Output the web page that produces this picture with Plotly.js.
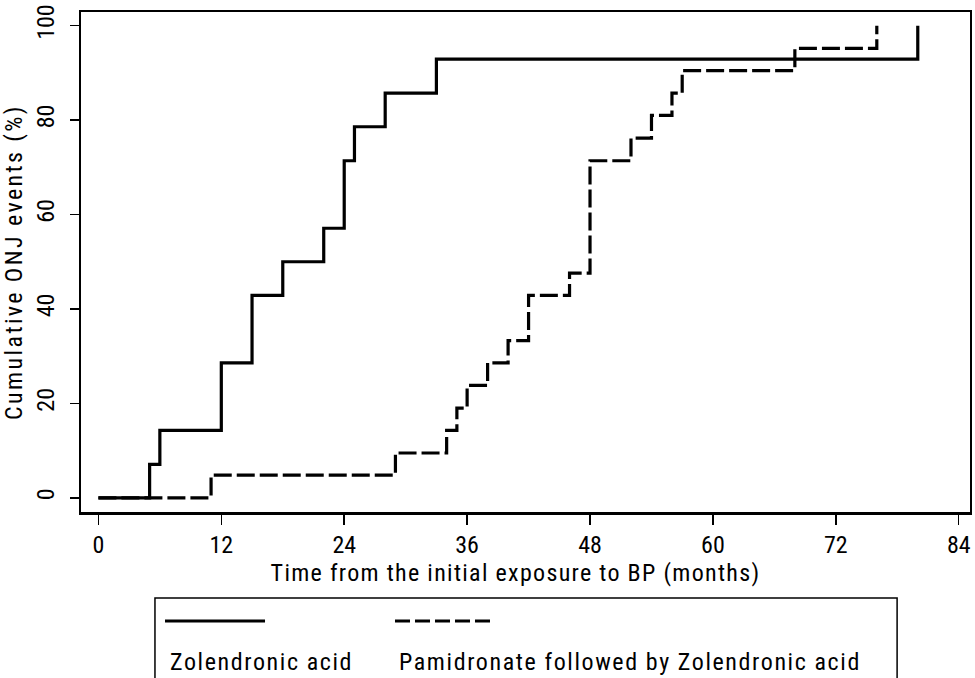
<!DOCTYPE html>
<html>
<head>
<meta charset="utf-8">
<script src="https://cdn.plot.ly/plotly-3.0.1.min.js"></script>
<style>
html,body{margin:0;padding:0;background:#fff;}
#chart{width:975px;height:678px;}
#chart text.xtitle{letter-spacing:1.3px; transform:translate(-10px,0px);}
#chart text.ytitle{letter-spacing:2.4px;}
#chart text.annotation-text{letter-spacing:1.6px;}
</style>
</head>
<body>
<div id="chart"></div>
<script>
// Data
const seriesNames = ["Zolendronic acid", "Pamidronate followed by Zolendronic acid"];
const zolMonths = [0, 5, 6, 12, 15, 18, 22, 24, 25, 28, 33, 80];
const zolPct    = [0, 7.1, 14.3, 28.6, 42.9, 50, 57.1, 71.4, 78.6, 85.7, 92.9, 100];
const pamMonths = [0, 11, 29, 34, 35, 36, 38, 40, 42, 46, 48, 52, 54, 56, 57, 68, 76];
const pamPct    = [0, 4.8, 9.5, 14.3, 19.0, 23.8, 28.6, 33.3, 42.9, 47.6, 71.4, 76.2, 81.0, 85.7, 90.5, 95.2, 100];
const xTicks = [0, 12, 24, 36, 48, 60, 72, 84];
const yTicks = [0, 20, 40, 60, 80, 100];

const FONT = "'Roboto Condensed', 'DejaVu Sans Condensed', sans-serif";
const TICKSIZE = 24;
const TEXTSIZE = 24;

const traces = [
  {x: zolMonths, y: zolPct, mode: 'lines', name: seriesNames[0],
   line: {shape: 'hv', color: '#000', width: 3.2, dash: 'solid'}},
  {x: pamMonths, y: pamPct, mode: 'lines', name: seriesNames[1],
   line: {shape: 'hv', color: '#000', width: 3.2, dash: '18px,5px'}}
];

// manual legend (Stata style: samples above labels)
const legShapes = [
  {type: 'rect', xref: 'paper', yref: 'paper', x0: 0.0832, x1: 0.918, y0: -0.172, y1: -0.40,
   line: {color: '#000', width: 1.5}, fillcolor: 'rgba(0,0,0,0)'},
  {type: 'line', xref: 'paper', yref: 'paper', x0: 0.0945, x1: 0.207, y0: -0.218, y1: -0.218,
   line: {color: '#000', width: 3.2}},
  {type: 'line', xref: 'paper', yref: 'paper', x0: 0.3532, x1: 0.4634, y0: -0.218, y1: -0.218,
   line: {color: '#000', width: 3.2, dash: '15px,5px'}}
];
const legAnn = [
  {xref: 'paper', yref: 'paper', x: 0.0979, y: -0.30, xanchor: 'left', yanchor: 'middle', align: 'left',
   text: seriesNames[0], showarrow: false, font: {family: FONT, size: TEXTSIZE, color: '#000'}},
  {xref: 'paper', yref: 'paper', x: 0.3555, y: -0.30, xanchor: 'left', yanchor: 'middle', align: 'left',
   text: seriesNames[1], showarrow: false, font: {family: FONT, size: TEXTSIZE, color: '#000'}}
];

const layout = {
  width: 975, height: 678,
  margin: {l: 81, r: 5, t: 12, b: 166, pad: 0},
  paper_bgcolor: '#fff', plot_bgcolor: '#fff',
  showlegend: false,
  font: {family: FONT, size: TICKSIZE, color: '#000'},
  xaxis: {
    range: [-1.7, 85.1], tickvals: xTicks, ticktext: xTicks.map(String),
    showgrid: false, zeroline: false, showline: true, mirror: true,
    linecolor: '#000', linewidth: 2.5,
    ticks: 'outside', ticklen: 10, tickwidth: 1.5, tickcolor: '#000',
    ticklabelstandoff: 0,
    tickfont: {family: FONT, size: TICKSIZE, color: '#000'},
    title: {text: 'Time from the initial exposure to BP (months)', standoff: 0,
            font: {family: FONT, size: TEXTSIZE, color: '#000'}}
  },
  yaxis: {
    range: [-3, 102.9], tickvals: yTicks, ticktext: yTicks.map(String),
    showgrid: false, zeroline: false, showline: true, mirror: true,
    linecolor: '#000', linewidth: 2, tickangle: -90,
    ticks: 'outside', ticklen: 9, tickwidth: 1.5, tickcolor: '#000',
    ticklabelstandoff: 6,
    tickfont: {family: FONT, size: TICKSIZE, color: '#000'},
    title: {text: 'Cumulative ONJ events (%)', standoff: 13,
            font: {family: FONT, size: TEXTSIZE, color: '#000'}}
  },
  shapes: legShapes,
  annotations: legAnn
};

Plotly.newPlot('chart', traces, layout, {staticPlot: true, displayModeBar: false});
</script>
</body>
</html>
